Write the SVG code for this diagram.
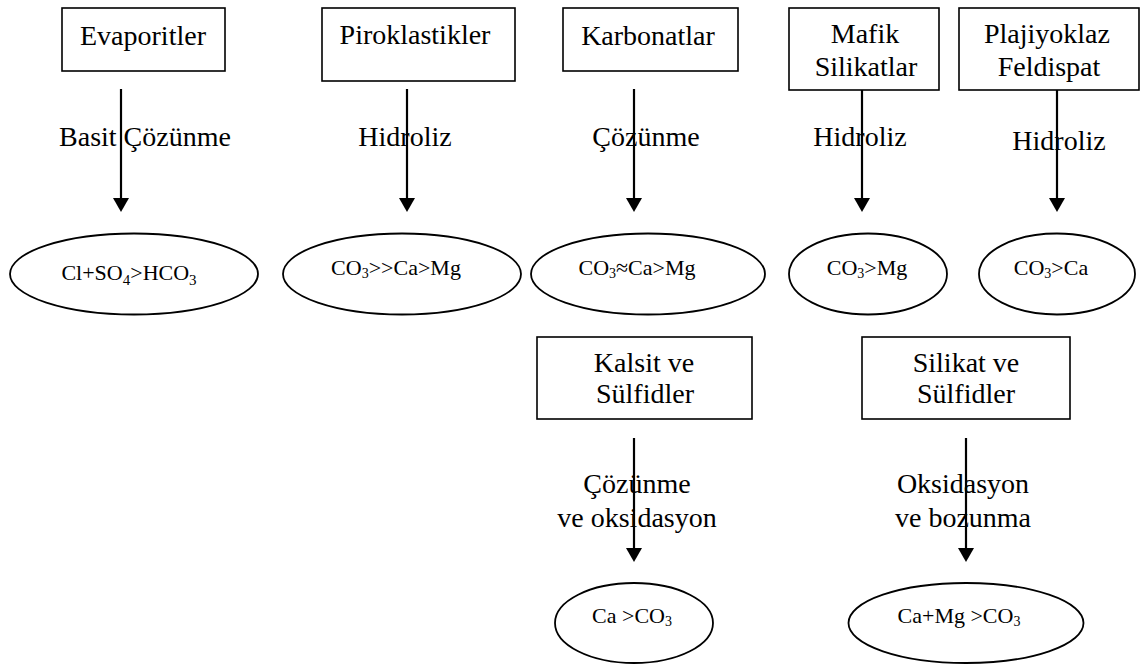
<svg xmlns="http://www.w3.org/2000/svg" width="1142" height="664" viewBox="0 0 1142 664">
  <style>
    .box { fill: #fff; stroke: #000; stroke-width: 1.6; }
    .ell { fill: #fff; stroke: #000; stroke-width: 1.8; }
    .t { font-family: "Liberation Serif", "Times New Roman", serif; font-size: 28px; fill: #000; text-anchor: middle; }
    .f { font-family: "Liberation Serif", "Times New Roman", serif; font-size: 22px; fill: #000; text-anchor: middle; }
    .sub { font-size: 14px; }
    .sub2 { font-size: 15px; }
    .arr { stroke: #000; stroke-width: 2.2; fill: none; marker-end: url(#ah); }
  </style>
  <defs>
    <marker id="ah" markerWidth="14" markerHeight="16" refX="0" refY="8" orient="auto" markerUnits="userSpaceOnUse">
      <path d="M0,0 L14,8 L0,16 Z" fill="#000"/>
    </marker>
  </defs>
  <rect width="1142" height="664" fill="#fff"/>

  <!-- source boxes, top row -->
  <g id="evaporitler">
    <rect class="box" x="62" y="8" width="163" height="63"/>
    <text class="t" x="143" y="45">Evaporitler</text>
  </g>
  <g id="piroklastikler">
    <rect class="box" x="322" y="8" width="193" height="73"/>
    <text class="t" x="415" y="44">Piroklastikler</text>
  </g>
  <g id="karbonatlar">
    <rect class="box" x="563" y="8" width="175" height="63"/>
    <text class="t" x="648" y="45">Karbonatlar</text>
  </g>
  <g id="mafik">
    <rect class="box" x="789" y="8" width="150" height="82"/>
    <text class="t" x="865" y="43">Mafik</text>
    <text class="t" x="866" y="76">Silikatlar</text>
  </g>
  <g id="plajiyoklaz">
    <rect class="box" x="959" y="8" width="180" height="82"/>
    <text class="t" x="1047" y="43">Plajiyoklaz</text>
    <text class="t" x="1049" y="76">Feldispat</text>
  </g>

  <!-- result ellipses, top row -->
  <g id="r-evaporit">
    <ellipse class="ell" cx="134" cy="274" rx="124" ry="40.5"/>
    <text class="f" x="129" y="280">Cl+SO<tspan class="sub2" dy="5">4</tspan><tspan dy="-5">&gt;HCO</tspan><tspan class="sub2" dy="5">3</tspan></text>
  </g>
  <g id="r-piroklastik">
    <ellipse class="ell" cx="402" cy="274" rx="119" ry="40.5"/>
    <text class="f" x="396" y="275">CO<tspan class="sub" dy="3">3</tspan><tspan dy="-3">&gt;&gt;Ca&gt;Mg</tspan></text>
  </g>
  <g id="r-karbonat">
    <ellipse class="ell" cx="648" cy="274" rx="117" ry="40.5"/>
    <text class="f" x="637" y="275">CO<tspan class="sub" dy="3">3</tspan><tspan dy="-3">≈Ca&gt;Mg</tspan></text>
  </g>
  <g id="r-mafik">
    <ellipse class="ell" cx="868" cy="274" rx="79" ry="40.5"/>
    <text class="f" x="867" y="275">CO<tspan class="sub" dy="3">3</tspan><tspan dy="-3">&gt;Mg</tspan></text>
  </g>
  <g id="r-plajiyoklaz">
    <ellipse class="ell" cx="1057" cy="274" rx="78" ry="40.5"/>
    <text class="f" x="1051" y="275">CO<tspan class="sub" dy="3">3</tspan><tspan dy="-3">&gt;Ca</tspan></text>
  </g>

  <!-- second row boxes -->
  <g id="kalsit">
    <rect class="box" x="537" y="337" width="215" height="82"/>
    <text class="t" x="644" y="372">Kalsit ve</text>
    <text class="t" x="645" y="403">Sülfidler</text>
  </g>
  <g id="silikat">
    <rect class="box" x="862" y="337" width="208" height="82"/>
    <text class="t" x="966" y="372">Silikat ve</text>
    <text class="t" x="966" y="403">Sülfidler</text>
  </g>

  <!-- second row results -->
  <g id="r-kalsit">
    <ellipse class="ell" cx="634" cy="623" rx="79" ry="40"/>
    <text class="f" x="632" y="623">Ca &gt;CO<tspan class="sub" dy="3">3</tspan></text>
  </g>
  <g id="r-silikat">
    <ellipse class="ell" cx="966" cy="623" rx="117.5" ry="40"/>
    <text class="f" x="959" y="623">Ca+Mg &gt;CO<tspan class="sub" dy="3">3</tspan></text>
  </g>

  <!-- connectors -->
  <g id="connectors">
    <line class="arr" x1="121" y1="89" x2="121" y2="198"/>
    <line class="arr" x1="407" y1="89" x2="407" y2="198"/>
    <line class="arr" x1="634" y1="89" x2="634" y2="198"/>
    <line class="arr" x1="862" y1="90" x2="862" y2="198"/>
    <line class="arr" x1="1057" y1="90" x2="1057" y2="198"/>
    <line class="arr" x1="634" y1="438" x2="634" y2="548"/>
    <line class="arr" x1="966" y1="438" x2="966" y2="548"/>
  </g>

  <!-- process labels -->
  <g id="labels">
    <text class="t" x="145" y="146">Basit Çözünme</text>
    <text class="t" x="405" y="146">Hidroliz</text>
    <text class="t" x="646" y="146">Çözünme</text>
    <text class="t" x="860" y="146">Hidroliz</text>
    <text class="t" x="1059" y="150">Hidroliz</text>
    <text class="t" x="637" y="493">Çözünme</text>
    <text class="t" x="637" y="527">ve oksidasyon</text>
    <text class="t" x="963" y="493">Oksidasyon</text>
    <text class="t" x="963" y="527">ve bozunma</text>
  </g>
</svg>
